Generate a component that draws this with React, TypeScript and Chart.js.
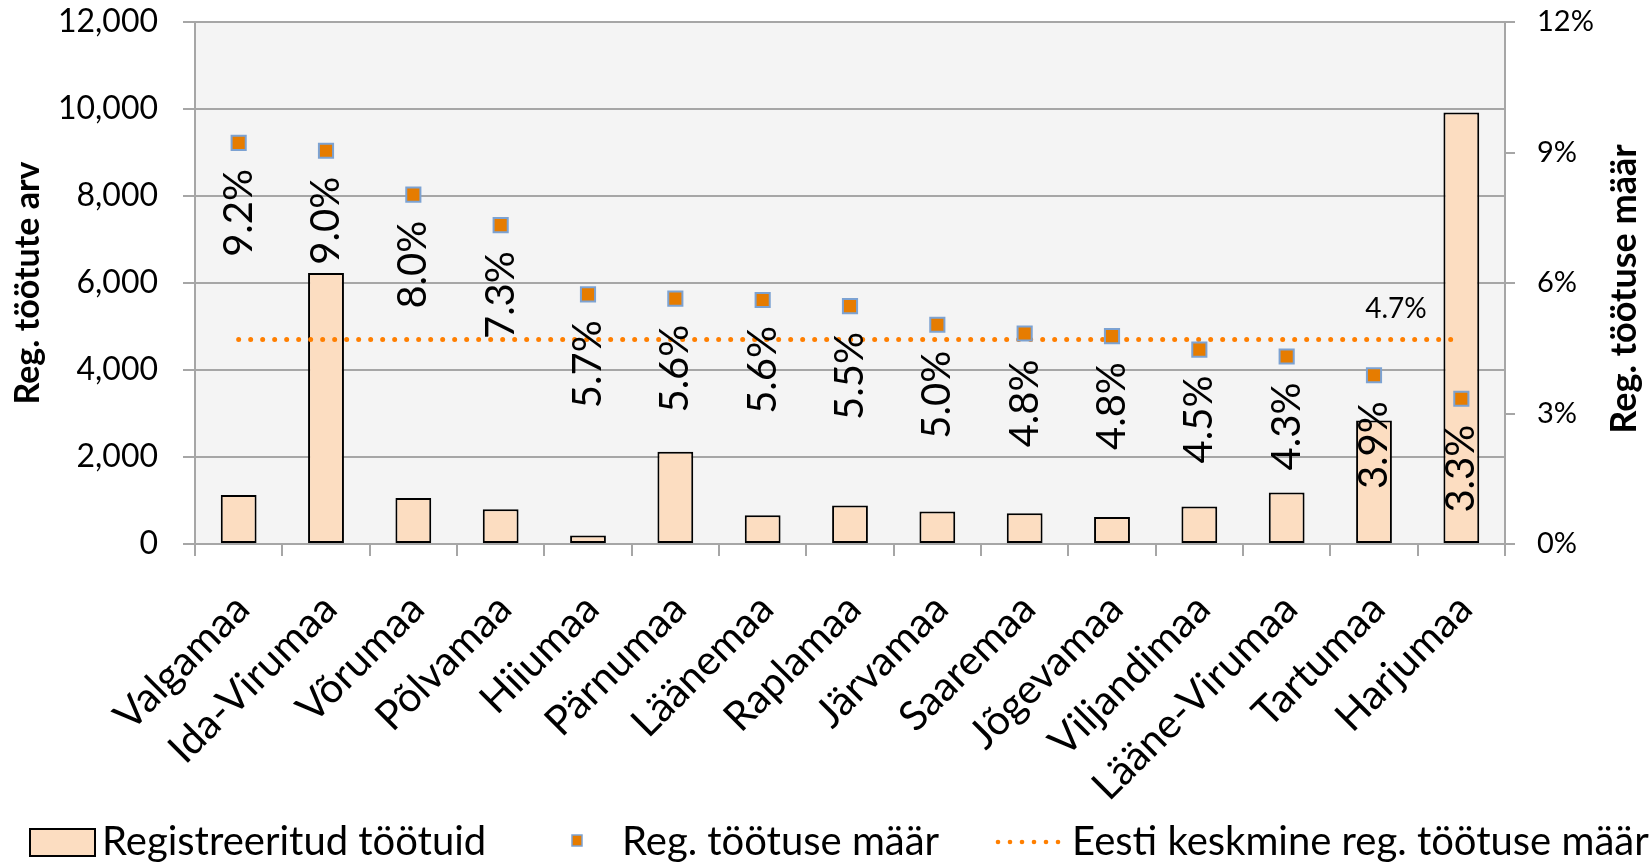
import React, { useEffect, useRef } from 'react';
import { Chart, registerables } from 'chart.js';

Chart.register(...registerables);

// ---------- data ----------
const categories = [
  'Valgamaa', 'Ida-Virumaa', 'Võrumaa', 'Põlvamaa', 'Hiiumaa', 'Pärnumaa', 'Läänemaa',
  'Raplamaa', 'Järvamaa', 'Saaremaa', 'Jõgevamaa', 'Viljandimaa', 'Lääne-Virumaa', 'Tartumaa', 'Harjumaa',
];
const registeredUnemployed = [1125, 6230, 1060, 800, 195, 2120, 660, 885, 745, 705, 620, 860, 1185, 2840, 9920];
const unemploymentRate = [9.22, 9.04, 8.03, 7.33, 5.74, 5.64, 5.61, 5.47, 5.04, 4.84, 4.78, 4.47, 4.31, 3.88, 3.34];
const estoniaAverageRate = 4.7;
const averageLabelCategory = 'Tartumaa';

const leftTicks = [0, 2000, 4000, 6000, 8000, 10000, 12000];
const rightTicks = [0, 3, 6, 9, 12];

const seriesNames = ['Registreeritud töötuid', 'Reg. töötuse määr', 'Eesti keskmine reg. töötuse määr'];
const leftAxisTitle = 'Reg. töötute arv';
const rightAxisTitle = 'Reg. töötuse määr';

// ---------- styles ----------
const FONT = 'Lato';
const BAR_FILL = '#fcddc1';
const BAR_BORDER = '#000000';
const MARKER_FILL = '#e67c00';
const MARKER_BORDER = '#7ca2d2';
const AVG_COLOR = '#ff7f00';
const GRID = '#a6a6a6';
const PLOT_BG = '#f4f4f4';

const fmtThousands = (v: number) => v.toLocaleString('en-US');
const fmtPct = (v: number) => `${v.toFixed(1)}%`;

const plotBackground = {
  id: 'plotBackground',
  beforeDraw(chart: any) {
    const { ctx, chartArea: a } = chart;
    ctx.save();
    ctx.fillStyle = PLOT_BG;
    ctx.fillRect(a.left, a.top, a.right - a.left, a.bottom - a.top);
    ctx.restore();
  },
};

const valueLabels = {
  id: 'valueLabels',
  afterDatasetsDraw(chart: any) {
    const { ctx } = chart;
    const meta = chart.getDatasetMeta(1);
    ctx.save();
    ctx.fillStyle = '#000';
    ctx.font = `40px ${FONT}`;
    ctx.textAlign = 'right';
    ctx.textBaseline = 'middle';
    meta.data.forEach((pt: any, i: number) => {
      ctx.save();
      ctx.translate(pt.x, pt.y + 26);
      ctx.rotate(-Math.PI / 2);
      ctx.fillText(fmtPct(unemploymentRate[i]), 0, 0);
      ctx.restore();
    });
    const avgMeta = chart.getDatasetMeta(2);
    const idx = categories.indexOf(averageLabelCategory);
    const p = avgMeta.data[idx];
    if (p) {
      ctx.font = `28px ${FONT}`;
      ctx.textAlign = 'center';
      ctx.fillText(fmtPct(estoniaAverageRate), p.x + 22, p.y - 31);
    }
    ctx.restore();
  },
};

const categoryLabels = {
  id: 'categoryLabels',
  afterDraw(chart: any) {
    const { ctx } = chart;
    const xs = chart.scales.x;
    ctx.save();
    ctx.fillStyle = '#000';
    ctx.font = `41px ${FONT}`;
    ctx.textAlign = 'right';
    ctx.textBaseline = 'middle';
    categories.forEach((c, i) => {
      const x = xs.getPixelForValue(i);
      ctx.save();
      ctx.translate(x + 4, xs.top + 58);
      ctx.rotate(-Math.PI / 4);
      ctx.fillText(c, 0, 0);
      ctx.restore();
    });
    ctx.restore();
  },
};

const axisTitles = {
  id: 'axisTitles',
  afterDraw(chart: any) {
    const { ctx, chartArea: a } = chart;
    const cy = (a.top + a.bottom) / 2;
    ctx.save();
    ctx.fillStyle = '#000';
    ctx.textAlign = 'center';
    ctx.textBaseline = 'middle';
    ctx.font = `bold 34px ${FONT}`;
    ctx.save();
    ctx.translate(28, cy);
    ctx.rotate(-Math.PI / 2);
    ctx.fillText(leftAxisTitle, 0, 0);
    ctx.restore();
    ctx.font = `bold 36px ${FONT}`;
    ctx.save();
    ctx.translate(chart.width - 28, cy + 6);
    ctx.rotate(-Math.PI / 2);
    ctx.fillText(rightAxisTitle, 0, 0);
    ctx.restore();
    ctx.restore();
  },
};

const customLegend = {
  id: 'customLegend',
  afterDraw(chart: any) {
    const { ctx } = chart;
    const y = 842;
    ctx.save();
    ctx.font = `40px ${FONT}`;
    ctx.textAlign = 'left';
    ctx.textBaseline = 'middle';
    // item 1: bar
    ctx.fillStyle = BAR_FILL;
    ctx.fillRect(30, 829, 65, 27);
    ctx.strokeStyle = BAR_BORDER;
    ctx.lineWidth = 2;
    ctx.strokeRect(30, 829, 65, 27);
    ctx.fillStyle = '#000';
    ctx.fillText(seriesNames[0], 102, y);
    // item 2: marker
    ctx.fillStyle = MARKER_FILL;
    ctx.fillRect(572, 835, 10, 11);
    ctx.strokeStyle = MARKER_BORDER;
    ctx.lineWidth = 1.5;
    ctx.strokeRect(572, 835, 10, 11);
    ctx.fillStyle = '#000';
    ctx.fillText(seriesNames[1], 622, y);
    // item 3: dotted line
    ctx.fillStyle = AVG_COLOR;
    for (let i = 0; i < 6; i++) {
      ctx.beginPath();
      ctx.arc(998 + i * 12, y, 2.3, 0, Math.PI * 2);
      ctx.fill();
    }
    ctx.fillStyle = '#000';
    ctx.fillText(seriesNames[2], 1072, y);
    ctx.restore();
  },
};

export default function App() {
  const ref = useRef<HTMLCanvasElement>(null);

  useEffect(() => {
    document.body.style.margin = '0';
    let chart: Chart | null = null;
    let cancelled = false;
    const fontsToLoad = [`32px ${FONT}`, `bold 34px ${FONT}`];
    const ready = (document as any).fonts
      ? Promise.all(fontsToLoad.map((f) => (document as any).fonts.load(f))).catch(() => null)
      : Promise.resolve(null);

    ready.then(() => {
      if (cancelled || !ref.current) return;
      chart = new Chart(ref.current, {
        type: 'bar',
        data: {
          labels: categories,
          datasets: [
            {
              type: 'bar',
              label: seriesNames[0],
              data: registeredUnemployed,
              backgroundColor: BAR_FILL,
              borderColor: BAR_BORDER,
              borderWidth: 2,
              borderSkipped: false,
              barPercentage: 0.41,
              categoryPercentage: 1,
              yAxisID: 'y',
              order: 3,
            },
            {
              type: 'line',
              label: seriesNames[1],
              data: unemploymentRate,
              showLine: false,
              pointStyle: 'rect',
              pointRadius: 10,
              pointBackgroundColor: MARKER_FILL,
              pointBorderColor: MARKER_BORDER,
              pointBorderWidth: 2,
              yAxisID: 'y1',
              order: 1,
            },
            {
              type: 'line',
              label: seriesNames[2],
              data: categories.map(() => estoniaAverageRate),
              borderColor: AVG_COLOR,
              borderWidth: 5,
              borderDash: [0, 12],
              borderCapStyle: 'round',
              pointRadius: 0,
              fill: false,
              yAxisID: 'y1',
              order: 2,
            },
          ],
        },
        options: {
          responsive: false,
          animation: false,
          devicePixelRatio: 1,
          layout: { padding: { top: 22, left: 0, right: 0, bottom: 0 } },
          plugins: {
            legend: { display: false },
            tooltip: { enabled: false },
            title: { display: false },
          },
          scales: {
            x: {
              type: 'category',
              grid: {
                offset: true,
                drawOnChartArea: false,
                drawTicks: true,
                tickLength: 12,
                color: GRID,
                lineWidth: 2,
              },
              border: { display: true, color: GRID, width: 2 },
              ticks: { display: false, autoSkip: false },
              afterFit: (s: any) => {
                s.height = 322;
                s.paddingLeft = 0;
                s.paddingRight = 0;
              },
            },
            y: {
              type: 'linear',
              position: 'left',
              min: 0,
              max: 12000,
              afterBuildTicks: (s: any) => {
                s.ticks = leftTicks.map((v) => ({ value: v }));
              },
              grid: {
                color: GRID,
                lineWidth: 2,
                tickLength: 12,
                drawTicks: true,
              },
              border: { display: true, color: GRID, width: 2 },
              ticks: {
                padding: 25,
                color: '#000',
                font: { family: FONT, size: 32 },
                callback: (v: any) => fmtThousands(Number(v)),
              },
              afterFit: (s: any) => {
                s.width = 195;
                s.paddingTop = 0;
                s.paddingBottom = 0;
              },
            },
            y1: {
              type: 'linear',
              position: 'right',
              min: 0,
              max: 12,
              afterBuildTicks: (s: any) => {
                s.ticks = rightTicks.map((v) => ({ value: v }));
              },
              grid: {
                drawOnChartArea: false,
                color: GRID,
                lineWidth: 2,
                tickLength: 10,
                drawTicks: true,
              },
              border: { display: true, color: GRID, width: 2 },
              ticks: {
                padding: 22,
                color: '#000',
                font: { family: FONT, size: 29 },
                callback: (v: any) => `${v}%`,
              },
              afterFit: (s: any) => {
                s.width = 147;
                s.paddingTop = 0;
                s.paddingBottom = 0;
              },
            },
          },
        },
        plugins: [plotBackground, valueLabels, categoryLabels, axisTitles, customLegend],
      } as any);
    });

    return () => {
      cancelled = true;
      if (chart) chart.destroy();
    };
  }, []);

  return (
    <div style={{ width: 1652, height: 866, position: 'relative', background: '#ffffff' }}>
      <canvas ref={ref} width={1652} height={866} style={{ display: 'block' }} />
    </div>
  );
}
